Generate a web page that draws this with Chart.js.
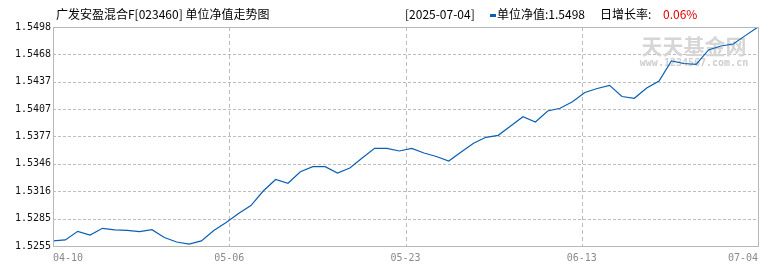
<!DOCTYPE html>
<html>
<head>
<meta charset="utf-8">
<script src="https://cdn.jsdelivr.net/npm/chart.js@4/dist/chart.umd.min.js"></script>
<style>
  body { margin: 0; background: #fff; }
  #wrap { position: relative; width: 770px; height: 270px; overflow: hidden; }
  .t { position: absolute; top: 7px; font: 12px "Noto Sans CJK SC", sans-serif; line-height: 14px; color: #000; white-space: nowrap; }
</style>
</head>
<body>
<div id="wrap">
  <canvas id="grafico" width="770" height="270"></canvas>
  <div class="t" style="left:56px">广发安盈混合F[023460] 单位净值走势图</div>
  <div class="t" style="left:405px">[2025-07-04]</div>
  <div style="position:absolute;left:490px;top:14px;width:6px;height:3px;background:#0a5fb4"></div>
  <div class="t" style="left:497px">单位净值:1.5498</div>
  <div class="t" style="left:600px">日增长率:</div>
  <div class="t" style="left:663px;color:#e00000">0.06%</div>
</div>
<script>
    // 单位净值, 04-10 .. 07-04
    const nav = [
        1.52606, 1.52617, 1.52713, 1.52672, 1.52746, 1.52728, 1.52724, 1.52709,
        1.52731, 1.52644, 1.52594, 1.52572, 1.52606, 1.52722, 1.52811, 1.52911,
        1.52999, 1.53160, 1.53288, 1.53246, 1.53374, 1.53430, 1.53430, 1.53360,
        1.53415, 1.53526, 1.53634, 1.53634, 1.53604, 1.53632, 1.53582, 1.53543,
        1.53493, 1.53593, 1.53690, 1.53756, 1.53778, 1.53882, 1.53985, 1.53926,
        1.54048, 1.54078, 1.54151, 1.54253, 1.54298, 1.54333, 1.54209, 1.54189,
        1.54303, 1.54381, 1.54603, 1.54575, 1.54566, 1.54725, 1.54769, 1.54791,
        1.54887, 1.5498
    ];

    const xLabels = ['04-10', '05-06', '05-23', '06-13', '07-04'];
    const yMin = 1.5255;
    const yMax = 1.5498;
    const ySteps = 8;

    const last = nav.length - 1;

    // dashed grid + watermark + frame
    const boxPlugin = {
        id: 'box',
        beforeDatasetsDraw(chart) {
            const c = chart.ctx, a = chart.chartArea;
            const xs = chart.scales.x, ys = chart.scales.y;
            c.save();
            c.strokeStyle = '#bcbcbc';
            c.lineWidth = 1;
            c.setLineDash([3, 2]);
            ys.ticks.forEach(t => {
                const y = Math.round(ys.getPixelForValue(t.value)) + 0.5;
                c.beginPath(); c.moveTo(a.left, y); c.lineTo(a.right, y); c.stroke();
            });
            c.setLineDash([4, 3]);
            xs.ticks.forEach(t => {
                const x = Math.round(xs.getPixelForValue(t.value)) + 0.5;
                c.beginPath(); c.moveTo(x, a.top); c.lineTo(x, a.bottom); c.stroke();
            });
            c.setLineDash([]);
            c.textAlign = 'center';
            c.fillStyle = '#d6d6d6';
            c.font = 'bold 21px "Noto Sans CJK SC"';
            c.fillText('天天基金网', 694, 54);
            c.font = 'bold 10px "DejaVu Sans Mono"';
            c.fillStyle = '#cfcfcf';
            c.fillText('www.1234567.com.cn', 694, 66);
            c.restore();
        },
        afterDraw(chart) {
            const c = chart.ctx, a = chart.chartArea;
            c.save();
            c.strokeStyle = '#b8b8b8';
            c.lineWidth = 1;
            c.setLineDash([]);
            c.strokeRect(Math.round(a.left) + 0.5, Math.round(a.top) + 0.5,
                Math.round(a.right - a.left), Math.round(a.bottom - a.top));
            c.restore();
        }
    };

    const config = {
        type: 'line',
        data: {
            datasets: [{
                label: '单位净值',
                data: nav.map((v, i) => ({ x: i, y: v })),
                borderColor: '#0a5fb4',
                borderWidth: 1.2,
                pointRadius: 0,
                tension: 0,
                fill: false
            }]
        },
        options: {
            responsive: false,
            animation: false,
            devicePixelRatio: 1,
            layout: { padding: { top: 27, right: 12, left: 0, bottom: 0 } },
            plugins: { legend: { display: false }, tooltip: { enabled: false } },
            scales: {
                x: {
                    type: 'linear',
                    min: 0,
                    max: last,
                    afterBuildTicks: (s) => {
                        s.ticks = xLabels.map((l, i) => ({ value: last * i / (xLabels.length - 1) }));
                    },
                    afterFit: (s) => { s.height = 24; },
                    ticks: {
                        callback: (v, i) => xLabels[i],
                        align: 'inner',
                        maxRotation: 0,
                        autoSkip: false,
                        padding: 6,
                        color: '#8a8a8a',
                        font: { family: 'DejaVu Sans Mono', size: 10 }
                    },
                    grid: { display: false, drawTicks: false },
                    border: { display: false }
                },
                y: {
                    min: yMin,
                    max: yMax,
                    afterBuildTicks: (s) => {
                        const t = [];
                        for (let i = 0; i <= ySteps; i++) t.push({ value: yMin + (yMax - yMin) * i / ySteps });
                        s.ticks = t;
                    },
                    afterFit: (s) => { s.width = 53; },
                    ticks: {
                        callback: (v) => v.toFixed(4),
                        padding: 2,
                        color: '#111',
                        font: { family: 'DejaVu Sans Mono', size: 10 }
                    },
                    grid: { display: false, drawTicks: false },
                    border: { display: false }
                }
            }
        },
        plugins: [boxPlugin]
    };

    const grafico = new Chart(document.getElementById('grafico'), config);
</script>
</body>
</html>
